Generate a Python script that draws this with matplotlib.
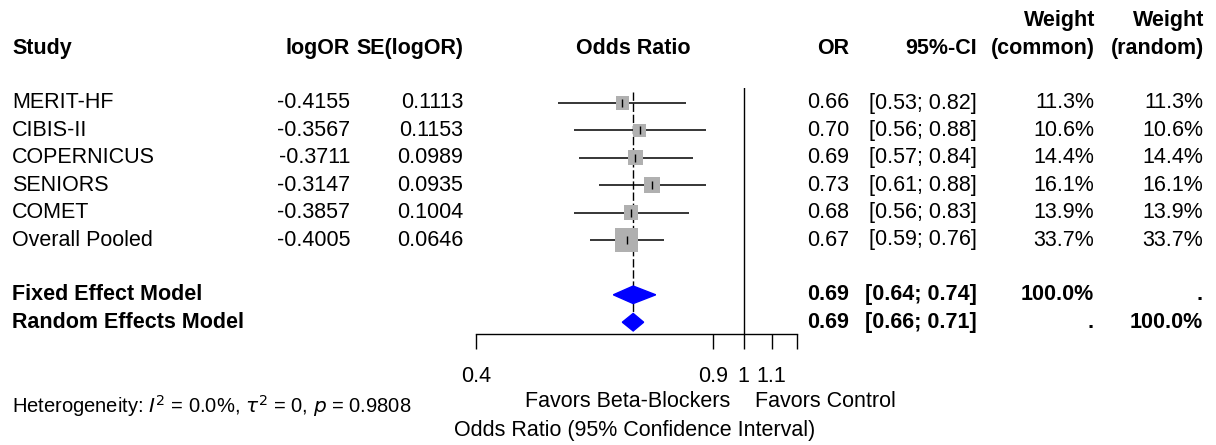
import numpy as np
import matplotlib
matplotlib.use("Agg")
import matplotlib.pyplot as plt
from matplotlib.patches import Polygon

plt.rcParams['font.family'] = ['Liberation Sans', 'DejaVu Sans']

# data
studies = ["MERIT-HF", "CIBIS-II", "COPERNICUS", "SENIORS", "COMET", "Overall Pooled"]
log_or = [-0.4155, -0.3567, -0.3711, -0.3147, -0.3857, -0.4005]
se_log_or = [0.1113, 0.1153, 0.0989, 0.0935, 0.1004, 0.0646]
or_est = [0.66, 0.70, 0.69, 0.73, 0.68, 0.67]
ci_low = [0.53, 0.56, 0.57, 0.61, 0.56, 0.59]
ci_high = [0.82, 0.88, 0.84, 0.88, 0.83, 0.76]
w_common = [11.3, 10.6, 14.4, 16.1, 13.9, 33.7]
w_random = [11.3, 10.6, 14.4, 16.1, 13.9, 33.7]

fixed_label = "Fixed Effect Model"
fixed_est, fixed_low, fixed_high = 0.685, 0.64, 0.74
fixed_txt = ["0.69", "[0.64; 0.74]", "100.0%", "."]
random_label = "Random Effects Model"
random_est, random_low, random_high = 0.685, 0.66, 0.71
random_txt = ["0.69", "[0.66; 0.71]", ".", "100.0%"]

xticks = [0.4, 0.9, 1, 1.1, 1.2]
xticklabels = ["0.4", "0.9", "1", "1.1", ""]
hetero = r"Heterogeneity: $I^2$ = 0.0%, $\tau^2$ = 0, $p$ = 0.9808"

W, H = 1216, 445
fig = plt.figure(figsize=(W / 100, H / 100), dpi=100)
fs = 15.5

# rows: pixel y = y0 + dy*row
y0, dy = 103, 27.4
def row_of(py):
    return (py - y0) / dy

# text layer covering full figure (x in pixels, y in rows)
tax = fig.add_axes([0, 0, 1, 1])
tax.set_xlim(0, W)
tax.set_ylim(row_of(H), row_of(0))
tax.axis("off")

# forest panel
left_px, right_px, top_px, bot_px = 476, 797, 88, 334
ax = fig.add_axes([left_px / W, (H - bot_px) / H, (right_px - left_px) / W, (bot_px - top_px) / H])
ax.set_xscale("log")
ax.set_xlim(0.4, 1.2)
ax.set_ylim(row_of(bot_px), row_of(top_px))
for s in ["top", "right", "left"]:
    ax.spines[s].set_visible(False)
ax.spines["bottom"].set_linewidth(1.0)
ax.set_yticks([])
ax.set_xticks(xticks)
ax.set_xticklabels(xticklabels)
ax.xaxis.set_minor_locator(matplotlib.ticker.NullLocator())
ax.tick_params(axis="x", direction="out", length=11, width=1.0, pad=12, labelsize=fs, colors="black")
ax.patch.set_alpha(0)

rows = np.arange(len(studies))
ax.axvline(1, color="black", lw=1.0)
ax.vlines(random_est, -0.4, 8, colors="black", lw=1.0, linestyles=(0, (6, 2)))
ax.hlines(rows, ci_low, ci_high, colors="black", lw=1.1)
sides = 4.0 * np.sqrt(np.array(w_common)) * 0.72
ax.scatter(or_est, rows, marker="s", s=sides ** 2, color="#b0b0b0", edgecolors="none", zorder=3)
ax.scatter(or_est, rows, marker="|", s=40, color="black", linewidths=1.0, zorder=4)

fixed_row, random_row = 7, 8
for r, est, lo, hi in [(fixed_row, fixed_est, fixed_low, fixed_high),
                       (random_row, random_est, random_low, random_high)]:
    hh = 0.32
    ax.add_patch(Polygon([[lo, r], [est, r - hh], [hi, r], [est, r + hh]],
                         closed=True, color="blue", zorder=3, clip_on=False))

# headers
hdr = dict(fontsize=fs, fontweight="bold", va="center")
tax.text(12, -2, "Study", ha="left", **hdr)
tax.text(350, -2, "logOR", ha="right", **hdr)
tax.text(463, -2, "SE(logOR)", ha="right", **hdr)
tax.text(633, -2, "Odds Ratio", ha="center", **hdr)
tax.text(849, -2, "OR", ha="right", **hdr)
tax.text(977, -2, "95%-CI", ha="right", **hdr)
tax.text(1095, -3, "Weight", ha="right", **hdr)
tax.text(1095, -2, "(common)", ha="right", **hdr)
tax.text(1204, -3, "Weight", ha="right", **hdr)
tax.text(1204, -2, "(random)", ha="right", **hdr)

cols = [849, 977, 1094, 1203]
body = dict(fontsize=fs, va="center")
for i, name in enumerate(studies):
    tax.text(12, i, name, ha="left", **body)
    tax.text(350, i, f"{log_or[i]:.4f}", ha="right", **body)
    tax.text(463, i, f"{se_log_or[i]:.4f}", ha="right", **body)
    vals = [f"{or_est[i]:.2f}", f"[{ci_low[i]:.2f}; {ci_high[i]:.2f}]",
            f"{w_common[i]:.1f}%", f"{w_random[i]:.1f}%"]
    for x, v in zip(cols, vals):
        tax.text(x, i, v, ha="right", **body)

for r, lab, txt in [(fixed_row, fixed_label, fixed_txt), (random_row, random_label, random_txt)]:
    tax.text(12, r, lab, ha="left", **hdr)
    for x, v in zip(cols, txt):
        tax.text(x, r, v, ha="right", **hdr)

tax.text(12, 11.05, hetero, ha="left", va="center", fontsize=14.5)
tax.text(730, 10.9, "Favors Beta-Blockers", ha="right", va="center", fontsize=fs)
tax.text(755, 10.9, "Favors Control", ha="left", va="center", fontsize=fs)
tax.text(635, 11.95, "Odds Ratio (95% Confidence Interval)", ha="center", va="center", fontsize=fs)

fig.savefig("out.png", dpi=100)
